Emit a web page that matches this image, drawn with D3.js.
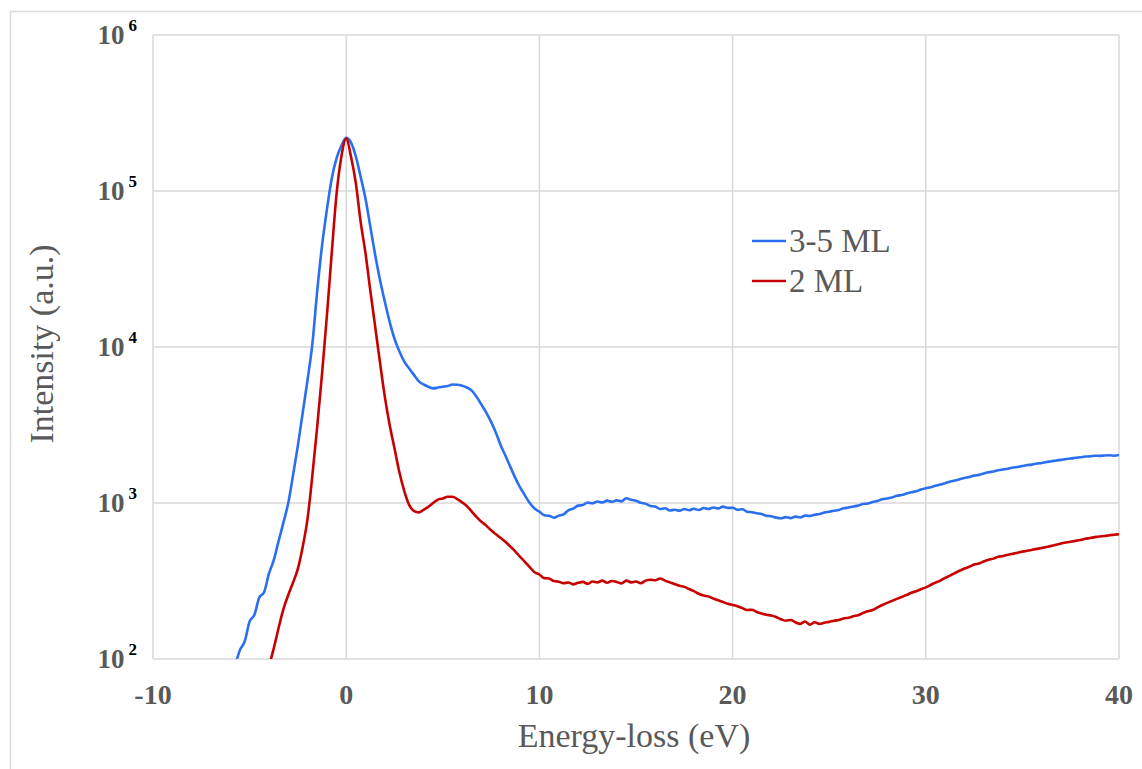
<!DOCTYPE html>
<html>
<head>
<meta charset="utf-8">
<script src="https://cdn.jsdelivr.net/npm/d3@7"></script>
<style>
  body { margin: 0; background: #fff; }
  text { font-family: "Liberation Serif", "Times New Roman", serif; }
</style>
</head>
<body>
<div id="chart"></div>
<script>
// spectra sampled every 0.25 eV from -6 to 40 eV
const energy = d3.range(-6, 40.001, 0.25);

const seriesNames = ["3-5 ML", "2 ML"];
const seriesColors = ["#2a6ff0", "#c80000"];

// 3-5 ML, rows of 4 values per eV
const intensityThick = [
  72, 91, 114, 130,
  174, 192, 248, 268,
  352, 430, 570, 748,
  1000, 1510, 2340, 3800,
  6170, 10500, 22900, 44700,
  75900, 120000, 162000, 195000,
  219000, 204000, 166000, 123000,
  89100, 58900, 38900, 26900,
  19500, 14500, 11300, 9400,
  8100, 7300, 6650, 6050,
  5750, 5560, 5430, 5500,
  5560, 5620, 5750, 5730,
  5650, 5500, 5250, 4790,
  4270, 3800, 3310, 2820,
  2340, 2000, 1700, 1450,
  1260, 1120, 1000, 923,
  880, 835, 828, 805,
  830, 845, 898, 920,
  962, 970, 1008, 995,
  1022, 1008, 1035, 1018,
  1040, 1025, 1072, 1048,
  1035, 1002, 990, 958,
  948, 915, 925, 895,
  905, 893, 915, 898,
  918, 902, 928, 915,
  935, 922, 948, 930,
  932, 905, 912, 880,
  872, 860, 850, 828,
  822, 806, 798, 812,
  800, 818, 808, 830,
  826, 842, 850, 868,
  880, 892, 902, 925,
  935, 950, 962, 985,
  992, 1015, 1030, 1058,
  1070, 1085, 1112, 1125,
  1150, 1172, 1188, 1220,
  1245, 1262, 1290, 1312,
  1340, 1370, 1392, 1418,
  1445, 1468, 1498, 1515,
  1545, 1575, 1592, 1622,
  1640, 1660, 1688, 1702,
  1725, 1750, 1762, 1790,
  1805, 1832, 1850, 1875,
  1890, 1915, 1928, 1950,
  1965, 1985, 1990, 2008,
  2005, 2018, 2022, 2010,
  2030
];

// 2 ML
const intensityThin = [
  12, 16, 21, 28,
  36, 46, 58, 72,
  90, 117, 158, 209,
  257, 309, 380, 525,
  794, 1510, 3090, 6760,
  15800, 39800, 95500, 166000,
  217000, 166000, 112000, 63100,
  39800, 22900, 13500, 7940,
  4790, 3160, 2240, 1580,
  1200, 977, 891, 871,
  902, 944, 1000, 1050,
  1070, 1096, 1096, 1060,
  1010, 955, 881, 813,
  759, 716, 668, 631,
  596, 562, 525, 490,
  452, 420, 388, 360,
  348, 330, 328, 316,
  313, 306, 309, 301,
  308, 312, 303, 314,
  310, 318, 308, 316,
  312, 305, 318, 310,
  314, 306, 318, 322,
  320, 328, 318, 310,
  302, 295, 290, 281,
  272, 262, 255, 252,
  244, 238, 232, 226,
  222, 218, 212, 206,
  207, 200, 196, 192,
  190, 186, 180, 176,
  178, 172, 168, 174,
  166, 172, 168, 171,
  173, 176, 178, 182,
  184, 188, 191, 197,
  202, 206, 214, 222,
  229, 236, 243, 250,
  257, 266, 272, 280,
  288, 298, 309, 318,
  331, 342, 355, 368,
  380, 390, 403, 410,
  422, 432, 440, 452,
  457, 466, 473, 480,
  488, 494, 501, 508,
  515, 522, 531, 540,
  550, 558, 565, 572,
  579, 590, 596, 604,
  610, 614, 621, 626,
  631
];

const xTicks = [-10, 0, 10, 20, 30, 40];
const yExponents = [2, 3, 4, 5, 6];

const W = 1142, H = 769;
const margin = { top: 35, right: 23, bottom: 110, left: 153 },
  width = W - margin.left - margin.right,
  height = H - margin.top - margin.bottom;

const svg = d3.select("#chart")
  .append("svg")
  .attr("width", W)
  .attr("height", H);

// outer frame
svg.append("rect")
  .attr("x", 10.5).attr("y", 11.5)
  .attr("width", 1150).attr("height", 780)
  .attr("fill", "none")
  .attr("stroke", "#d9d9d9")
  .attr("stroke-width", 1.5);

const g = svg.append("g")
  .attr("transform", `translate(${margin.left}, ${margin.top})`);

const x = d3.scaleLinear().domain([-10, 40]).range([0, width]);
const y = d3.scaleLog().domain([100, 1e6]).range([height, 0]);

// grid
g.append("g")
  .selectAll("line")
  .data(xTicks)
  .enter().append("line")
  .attr("x1", d => x(d)).attr("x2", d => x(d))
  .attr("y1", 0).attr("y2", height)
  .attr("stroke", "#d9d9d9").attr("stroke-width", 1.5);

g.append("g")
  .selectAll("line")
  .data(yExponents)
  .enter().append("line")
  .attr("x1", 0).attr("x2", width)
  .attr("y1", d => y(Math.pow(10, d))).attr("y2", d => y(Math.pow(10, d)))
  .attr("stroke", "#d9d9d9").attr("stroke-width", 1.5);

// x tick labels
g.append("g")
  .selectAll("text")
  .data(xTicks)
  .enter().append("text")
  .attr("x", d => x(d))
  .attr("y", height + 45)
  .attr("text-anchor", "middle")
  .style("font-size", "28px")
  .style("font-weight", "bold")
  .style("fill", "#595959")
  .text(d => d);

// y tick labels as 10^n
const yLab = g.append("g")
  .selectAll("text")
  .data(yExponents)
  .enter().append("text")
  .attr("x", -16)
  .attr("y", d => y(Math.pow(10, d)) + 9)
  .attr("text-anchor", "end")
  .style("font-weight", "bold");

yLab.append("tspan")
  .style("font-size", "27px")
  .style("fill", "#595959")
  .text("10");

yLab.append("tspan")
  .attr("dx", 4)
  .attr("dy", -13)
  .style("font-size", "17px")
  .style("fill", "#000")
  .text(d => d);

// axis titles
g.append("text")
  .attr("x", width / 2 - 2)
  .attr("y", height + 88)
  .attr("text-anchor", "middle")
  .style("font-size", "34px")
  .style("fill", "#595959")
  .text("Energy-loss (eV)");

g.append("text")
  .attr("transform", `translate(${53 - margin.left}, ${height / 2 - 3}) rotate(-90)`)
  .attr("text-anchor", "middle")
  .style("font-size", "34px")
  .style("fill", "#595959")
  .text("Intensity (a.u.)");

// lines
g.append("clipPath").attr("id", "plot-clip")
  .append("rect")
  .attr("x", 0).attr("y", -5)
  .attr("width", width).attr("height", height + 5);

const line = d3.line()
  .x((d, i) => x(energy[i]))
  .y(d => y(d))
  .curve(d3.curveMonotoneX);

[intensityThick, intensityThin].forEach((vals, k) => {
  g.append("path")
    .datum(vals)
    .attr("clip-path", "url(#plot-clip)")
    .attr("fill", "none")
    .attr("stroke", seriesColors[k])
    .attr("stroke-width", 2.6)
    .attr("stroke-linejoin", "round")
    .attr("d", line);
});

// legend
const legend = g.append("g")
  .attr("transform", `translate(${752 - margin.left}, ${241 - margin.top})`);

seriesNames.forEach((name, i) => {
  legend.append("line")
    .attr("x1", 0).attr("x2", 34)
    .attr("y1", i * 40).attr("y2", i * 40)
    .attr("stroke", seriesColors[i])
    .attr("stroke-width", 2.5);
  legend.append("text")
    .attr("x", 37)
    .attr("y", i * 40 + 11)
    .style("font-size", "33px")
    .style("fill", "#595959")
    .text(name);
});
</script>
</body>
</html>
